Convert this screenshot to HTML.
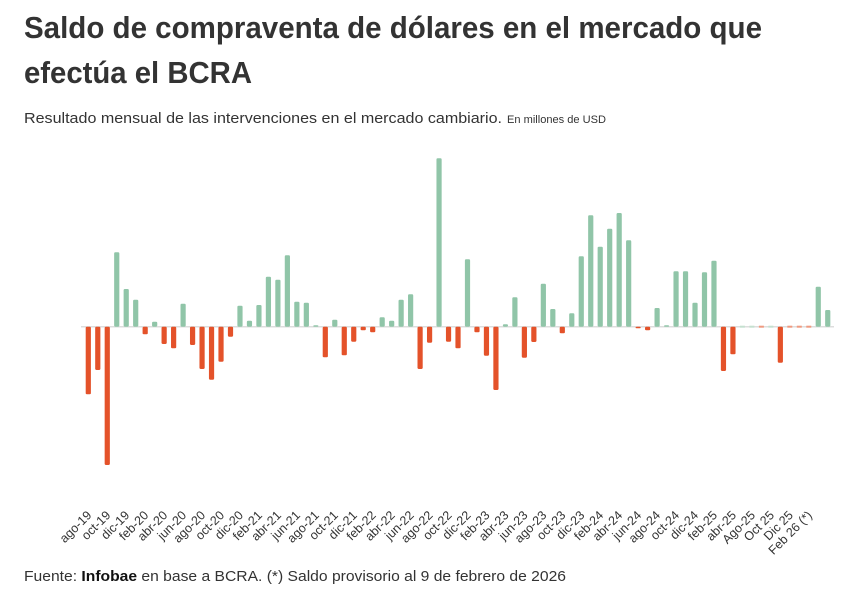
<!DOCTYPE html>
<html><head><meta charset="utf-8"><style>
html,body{margin:0;padding:0;background:#fff;}
svg{display:block;font-family:"Liberation Sans",sans-serif;}
</style></head><body>
<svg id="s" width="864" height="593" viewBox="0 0 864 593" xmlns="http://www.w3.org/2000/svg">
<text x="24" y="38" font-size="31" font-weight="bold" fill="#333" textLength="738" lengthAdjust="spacingAndGlyphs">Saldo de compraventa de dólares en el mercado que</text>
<text x="24" y="83" font-size="31" font-weight="bold" fill="#333" textLength="228" lengthAdjust="spacingAndGlyphs">efectúa el BCRA</text>
<text x="24" y="123" font-size="15" fill="#333" textLength="478" lengthAdjust="spacingAndGlyphs">Resultado  mensual de las intervenciones en el mercado cambiario.</text>
<text x="507" y="123" font-size="11" fill="#333" textLength="99" lengthAdjust="spacingAndGlyphs">En millones de USD</text>
<line x1="81" y1="326.7" x2="834" y2="326.7" stroke="#ddd" stroke-width="1.5"/>
<g id="bars"></g>
<g id="labels" font-size="12.5" fill="#333"></g>
<text x="24" y="581" font-size="15" fill="#333" textLength="542" lengthAdjust="spacingAndGlyphs">Fuente: <tspan font-weight="bold" fill="#111">Infobae</tspan> en base a BCRA. (*) Saldo provisorio al 9 de febrero de 2026</text>
</svg>
<script>
var ys=[394.3,370,465,252.3,289,299.7,334.3,321.7,344,348.3,303.7,345,369,379.7,361.7,336.7,305.7,320.7,305,276.7,279.7,255.3,301.7,302.7,325.3,357.3,319.7,355.3,341.7,330.3,332.3,317.3,320.7,299.7,294.3,369,342.7,158.3,341.7,348.3,259.3,332.3,355.7,390,324.3,297.3,357.7,342,283.7,309,333.3,313.3,256.3,215.3,246.7,228.7,213,240.3,327.3,330.3,308,325.3,271.3,271.3,302.7,272.3,260.7,371,354.3,325.5,325.5,327.8,325.5,362.7,327.8,327.8,327.8,286.7,310];
var tiny={69:'g',70:'g',71:'r',72:'g',74:'r',75:'r',76:'r'};
var z=326.7,g=document.getElementById('bars'),L=document.getElementById('labels'),h='',lh='';
for(var i=0;i<ys.length;i++){
 var x=88.3+i*9.48,y=ys[i],up=y<z,c=up?'#90c5a8':'#e4522a';
 if(tiny[i]){c=tiny[i]=='g'?'#c5e0d0':'#ef9a80';h+='<rect x="'+(x-2.5)+'" y="'+(z-1)+'" width="5" height="2" fill="'+c+'"/>';continue;}
 var t=Math.min(y,z),hh=Math.abs(y-z);if(hh<1.5)hh=1.5;
 h+='<rect x="'+(x-2.6)+'" y="'+t+'" width="5.2" height="'+hh+'" rx="1.2" fill="'+c+'"/>';
}
g.innerHTML=h;
var m=['ago','oct','dic','feb','abr','jun'];
var yr=19,mi=0;
for(var k=0;k<40;k++){
 var idx=k*2;var n=m[mi]+'-'+yr;
 if(k==35)n='Ago-25';if(k==36)n='Oct 25';if(k==37)n='Dic 25';if(k==38)n='Feb 26 (*)';
 if(k<=38){var x=88.3+idx*9.48+4;lh+='<text x="'+x+'" y="516" text-anchor="end" transform="rotate(-45 '+x+' 516)">'+n+'</text>';}
 mi++;if(mi==6)mi=0;if(m[mi]=='feb')yr++;
}
L.innerHTML=lh;
</script>
</body></html>
